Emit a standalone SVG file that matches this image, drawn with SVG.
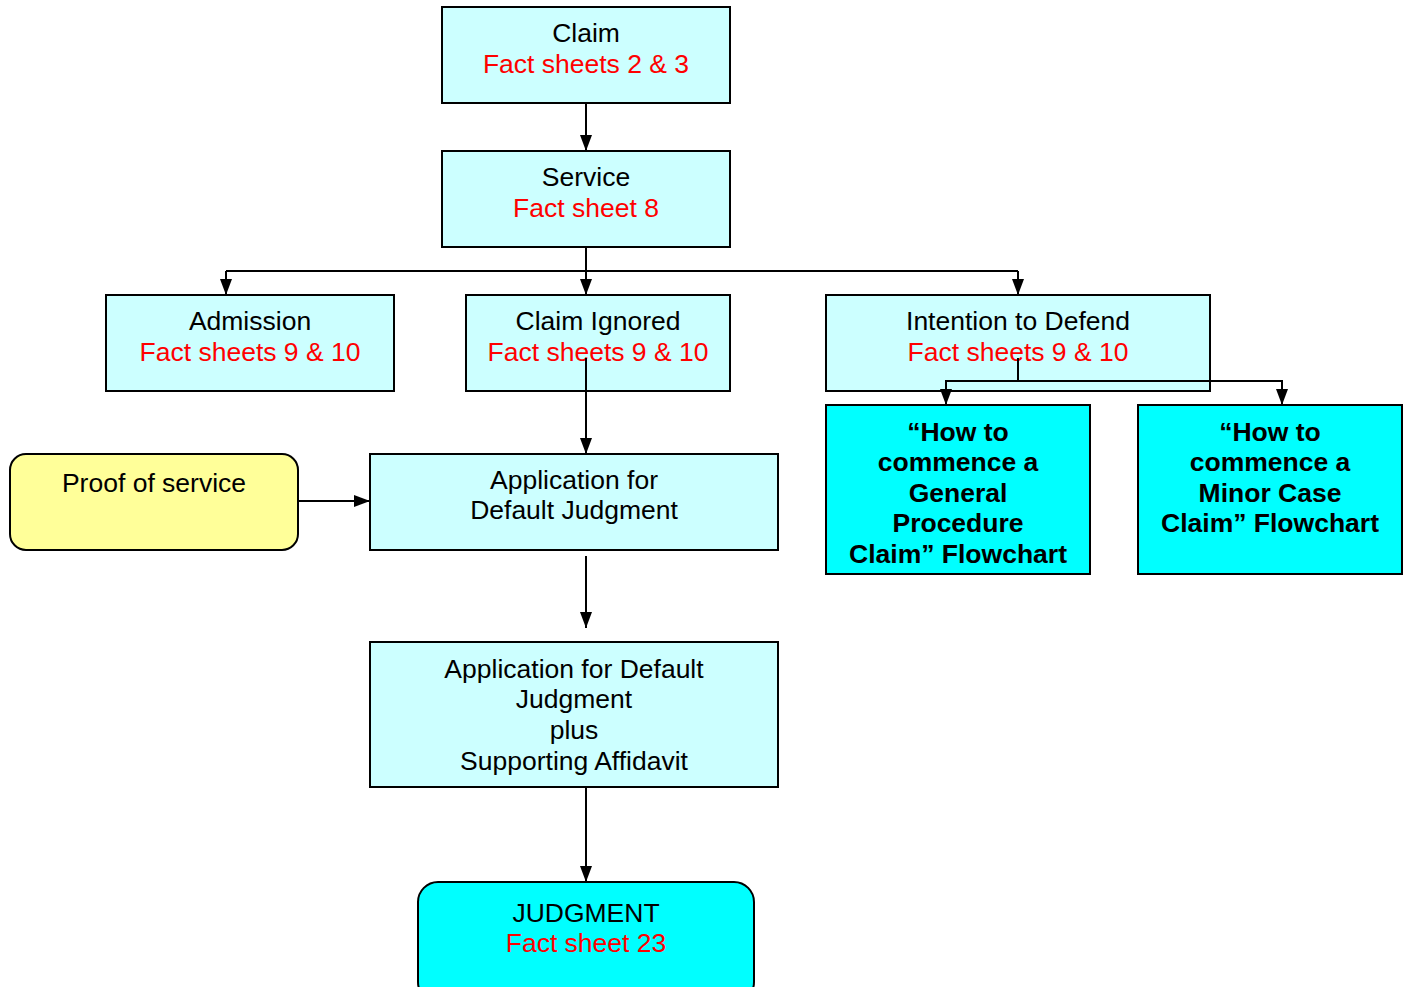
<svg xmlns="http://www.w3.org/2000/svg" width="1409" height="987" viewBox="0 0 1409 987">
<defs>
<marker id="arr" viewBox="0 0 16 12" refX="16" refY="6" markerWidth="16" markerHeight="12" markerUnits="userSpaceOnUse" orient="auto">
<path d="M0,0 L16,6 L0,12 Z" fill="#000"/>
</marker>
<style>
.box{fill:#CCFFFF;stroke:#000;stroke-width:2}
.cy{fill:#00FFFF;stroke:#000;stroke-width:2}
.yl{fill:#FFFF99;stroke:#000;stroke-width:2}
text{font-family:"Liberation Sans",Arial,sans-serif;font-size:26.5px;text-anchor:middle;fill:#000}
.r{fill:#FF0000}
.b{font-weight:bold}
.c{fill:none;stroke:#000;stroke-width:2}
</style>
</defs>
<rect width="1409" height="987" fill="#fff"/>
<g id="claim"><rect class="box" x="442" y="7" width="288" height="96"/><text x="586" y="42">Claim</text><text class="r" x="586" y="73">Fact sheets 2 &amp; 3</text></g>
<g id="service"><rect class="box" x="442" y="151" width="288" height="96"/><text x="586" y="186">Service</text><text class="r" x="586" y="217">Fact sheet 8</text></g>
<g id="admission"><rect class="box" x="106" y="295" width="288" height="96"/><text x="250" y="330">Admission</text><text class="r" x="250" y="361">Fact sheets 9 &amp; 10</text></g>
<g id="ignored"><rect class="box" x="466" y="295" width="264" height="96"/><text x="598" y="330">Claim Ignored</text><text class="r" x="598" y="361">Fact sheets 9 &amp; 10</text></g>
<g id="defend"><rect class="box" x="826" y="295" width="384" height="96"/><text x="1018" y="330">Intention to Defend</text><text class="r" x="1018" y="361">Fact sheets 9 &amp; 10</text></g>
<g id="general"><rect class="cy" x="826" y="405" width="264" height="169"/><text class="b" x="958" y="441">“How to</text><text class="b" x="958" y="471">commence a</text><text class="b" x="958" y="502">General</text><text class="b" x="958" y="532">Procedure</text><text class="b" x="958" y="563">Claim” Flowchart</text></g>
<g id="minor"><rect class="cy" x="1138" y="405" width="264" height="169"/><text class="b" x="1270" y="441">“How to</text><text class="b" x="1270" y="471">commence a</text><text class="b" x="1270" y="502">Minor Case</text><text class="b" x="1270" y="532">Claim” Flowchart</text></g>
<g id="proof"><rect class="yl" x="10" y="454" width="288" height="96" rx="16"/><text x="154" y="492">Proof of service</text></g>
<g id="app1"><rect class="box" x="370" y="454" width="408" height="96"/><text x="574" y="489">Application for</text><text x="574" y="519">Default Judgment</text></g>
<g id="app2"><rect class="box" x="370" y="642" width="408" height="145"/><text x="574" y="678">Application for Default</text><text x="574" y="708">Judgment</text><text x="574" y="739">plus</text><text x="574" y="770">Supporting Affidavit</text></g>
<g id="judgment"><rect class="cy" x="418" y="882" width="336" height="120" rx="20"/><text x="586" y="922">JUDGMENT</text><text class="r" x="586" y="952">Fact sheet 23</text></g>
<g id="connectors">
<path class="c" d="M586,103 V151" marker-end="url(#arr)"/>
<path class="c" d="M586,247 V295" marker-end="url(#arr)"/>
<path class="c" d="M226,271 H1018"/>
<path class="c" d="M226,271 V295" marker-end="url(#arr)"/>
<path class="c" d="M1018,271 V295" marker-end="url(#arr)"/>
<path class="c" d="M586,358 V454" marker-end="url(#arr)"/>
<path class="c" d="M298,501 H370" marker-end="url(#arr)"/>
<path class="c" d="M586,556 V628" marker-end="url(#arr)"/>
<path class="c" d="M586,787 V882" marker-end="url(#arr)"/>
<path class="c" d="M1018,358 V381 M946,381 H1282"/>
<path class="c" d="M946,380 V405" marker-end="url(#arr)"/>
<path class="c" d="M1282,380 V405" marker-end="url(#arr)"/>
</g>
</svg>
